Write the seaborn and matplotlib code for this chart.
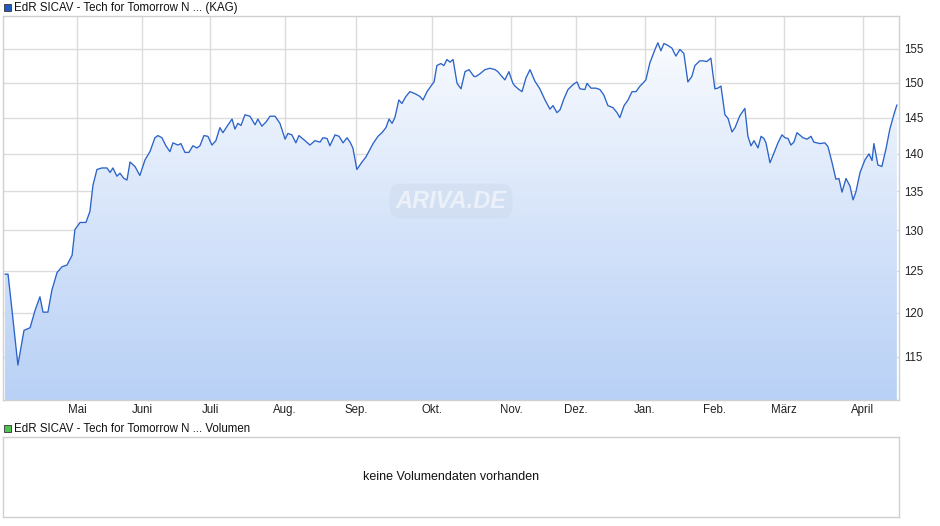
import numpy as np
import pandas as pd
import matplotlib
matplotlib.use("Agg")
import matplotlib.pyplot as plt
import seaborn as sns
from matplotlib.patches import Polygon
from matplotlib.ticker import FixedLocator, NullLocator
from matplotlib.colors import LinearSegmentedColormap

days = [0,1.3,3.0,5.5,8.1,10.7,12.8,14.9,16.2,18.3,20.0,22.2,24.3,26.4,28.6,29.8,32.0,34.5,36.2,37.5,
39.2,41.3,43.5,44.8,46.0,47.7,49.0,50.7,52.0,53.3,55.4,57.5,59.7,61.8,63.9,65.2,66.9,68.6,70.3,71.6,
73.7,75.0,76.7,78.4,80.1,81.8,83.1,84.8,86.5,88.2,89.9,91.6,92.9,95.1,96.8,98.0,99.3,100.6,102.3,104.4,
106.6,107.8,109.5,111.3,113.0,115.1,117.2,119.4,120.6,122.3,124.0,125.3,127.9,130.0,132.1,134.3,135.5,137.3,138.5,140.7,
142.4,144.1,145.8,147.1,148.3,150.0,152.2,153.9,155.6,156.9,159.0,160.7,162.4,163.7,165.0,166.2,167.9,169.2,170.9,172.6,
174.8,176.9,178.2,179.9,182.0,182.9,184.1,185.8,187.1,188.4,189.7,191.0,192.7,194.4,196.1,197.8,199.9,200.8,202.5,204.6,
206.7,208.9,210.1,211.8,213.1,214.8,216.5,217.4,219.1,220.4,222.1,223.8,225.9,228.0,230.2,232.3,233.6,235.3,236.6,238.3,
240.0,242.1,243.8,245.1,247.2,248.1,249.8,251.9,253.6,255.3,257.0,259.2,260.9,262.1,263.9,265.6,267.3,269.0,270.7,271.9,
273.2,274.9,277.1,278.3,279.6,280.9,282.6,284.3,286.0,287.7,289.4,291.1,292.8,294.1,296.2,297.5,299.2,300.9,302.6,303.9,
305.2,306.9,308.2,309.9,311.2,313.3,315.4,316.7,318.0,319.3,321.0,322.3,323.5,324.4,326.1,327.4,329.5,331.2,332.5,333.8,
335.0,336.3,337.6,340.2,341.9,343.6,344.8,347.4,349.5,350.8,352.5,354.2,355.5,356.8,358.5,360.2,361.5,362.7,364.5,366.6,
368.3,369.6,370.4,372.1,373.8,375.5,377.2,378.9,380.2]

prices = [124.6,124.6,120.3,114.1,118.0,118.3,120.3,121.9,120.1,120.1,122.7,124.8,125.5,125.7,126.9,130.1,131.0,131.0,132.4,135.8,
137.9,138.1,138.1,137.5,138.1,137.0,137.4,136.7,136.5,138.9,138.3,137.1,139.2,140.3,142.2,142.5,142.2,141.1,140.3,141.5,
141.2,141.4,140.2,140.2,141.1,140.8,141.1,142.5,142.4,141.2,141.8,143.6,142.9,144.0,144.8,143.4,144.2,143.9,145.4,145.2,
144.0,144.8,143.8,144.4,145.2,145.2,144.2,142.0,142.8,142.6,141.5,142.5,141.8,141.2,141.8,141.6,142.2,142.1,141.1,142.6,
142.4,141.5,142.2,141.6,140.8,137.9,138.9,139.6,140.6,141.4,142.4,142.9,143.6,144.8,144.2,145.0,147.5,147.0,148.0,148.7,
148.4,148.0,147.5,148.7,149.7,150.1,152.5,152.8,152.5,153.4,153.0,153.4,149.9,149.1,151.6,151.9,150.9,150.9,151.3,151.9,
152.1,151.9,151.6,150.9,150.4,151.6,149.9,149.5,149.0,148.7,150.7,151.9,150.2,149.1,147.5,146.2,146.7,145.7,146.1,147.7,
149.0,149.7,150.1,149.1,149.0,149.9,149.2,149.2,149.0,148.2,146.7,146.4,145.7,145.0,146.7,147.5,148.7,148.7,149.5,149.9,
150.4,152.9,154.9,155.9,154.7,155.8,155.5,155.1,153.9,154.9,154.3,150.1,150.9,152.5,153.2,153.2,153.1,153.6,149.1,149.2,
149.5,145.4,144.9,143.0,143.6,145.3,146.3,142.4,141.1,141.8,140.8,142.4,142.1,141.5,138.8,139.8,141.5,142.6,142.2,142.1,
141.2,141.6,142.9,142.2,142.0,142.4,141.6,141.4,141.5,141.0,138.9,136.6,136.7,134.9,136.7,135.7,133.9,134.9,137.5,139.2,
140.0,139.1,141.4,138.5,138.3,140.6,143.4,145.4,146.8]

month_labels = ["Mai","Juni","Juli","Aug.","Sep.","Okt.","Nov.","Dez.","Jan.","Feb.","März","April"]
month_pos = [30.7,58.4,87.4,119.4,149.6,182.0,215.7,243.4,272.8,302.6,332.0,365.7]
y_ticks = [115,120,125,130,135,140,145,150,155]
series_name = "EdR SICAV - Tech for Tomorrow N ... (KAG)"
volume_name = "EdR SICAV - Tech for Tomorrow N ... Volumen"

df = pd.DataFrame({"t": days, "p": prices})

sns.set_theme(style="white")
plt.rcParams['font.family'] = ['Liberation Sans', 'DejaVu Sans']

W, H = 940, 526
fig = plt.figure(figsize=(W/100, H/100), dpi=100)
ax = fig.add_axes([3/W, 1-400/H, 896/W, 384/H])
ymin, ymax = 110.3, 160.0
xmin, xmax = -0.85, 381.1
ax.set_yscale("log")

grad = np.linspace(0, 1, 256).reshape(-1, 1)
cmap = LinearSegmentedColormap.from_list("g", ["#ffffff", "#b9d1f6"])
im = ax.imshow(grad, extent=[xmin, xmax, ymin, ymax], aspect="auto", cmap=cmap,
               origin="upper", zorder=1)
poly = Polygon(np.column_stack([[days[0]] + days + [days[-1]], [ymin] + prices + [ymin]]),
               closed=True, transform=ax.transData, facecolor="none", edgecolor="none")
ax.add_patch(poly)
im.set_clip_path(poly)

sns.lineplot(data=df, x="t", y="p", ax=ax, color="#2b63c8", linewidth=0.95, zorder=3)
ax.set_xlim(xmin, xmax)
ax.set_ylim(ymin, ymax)

ax.yaxis.set_major_locator(FixedLocator(y_ticks))
ax.yaxis.set_minor_locator(NullLocator())
ax.set_yticklabels([str(v) for v in y_ticks])
ax.yaxis.tick_right()
ax.set_xticks(month_pos)
ax.set_xticklabels(month_labels)
ax.tick_params(axis="both", length=0, labelsize=8.3, colors="#222222")
ax.tick_params(axis="y", pad=4)
ax.tick_params(axis="x", pad=3)
ax.set_xlabel(""); ax.set_ylabel("")
ax.grid(True, color="#dcdcdc", linewidth=1.0, zorder=0)
ax.set_axisbelow(True)
for s in ax.spines.values():
    s.set_color("#d0d0d0"); s.set_linewidth(1.0)

ax.text(0.5, 0.518, "ARIVA.DE", transform=ax.transAxes, ha="center", va="center",
        fontsize=17, fontstyle="italic", fontweight="bold", color="#ffffff", alpha=0.55, zorder=2,
        bbox=dict(boxstyle="round,pad=0.25,rounding_size=0.5", facecolor="#b8c6d8",
                  edgecolor="none", alpha=0.18))

fig.patches.append(plt.Rectangle((4/W, 1-11/H), 7/W, 7/H, transform=fig.transFigure,
                                 facecolor="#1f5bc4", edgecolor="#333333", linewidth=0.6))
fig.text(14/W, 1-7.5/H, series_name, fontsize=8.3, va="center", ha="left", color="#111111")
fig.patches.append(plt.Rectangle((4/W, 1-432/H), 7/W, 7/H, transform=fig.transFigure,
                                 facecolor="#4fc24f", edgecolor="#333333", linewidth=0.6))
fig.text(14/W, 1-428.5/H, volume_name, fontsize=8.3, va="center", ha="left", color="#111111")

ax2 = fig.add_axes([3/W, 1-517/H, 896/W, 80/H])
ax2.set_xticks([]); ax2.set_yticks([])
for s in ax2.spines.values():
    s.set_color("#d0d0d0"); s.set_linewidth(1.0)
ax2.text(0.5, 0.5, "keine Volumendaten vorhanden", transform=ax2.transAxes,
         ha="center", va="center", fontsize=9, color="#111111")

fig.savefig("out.png", dpi=100)
